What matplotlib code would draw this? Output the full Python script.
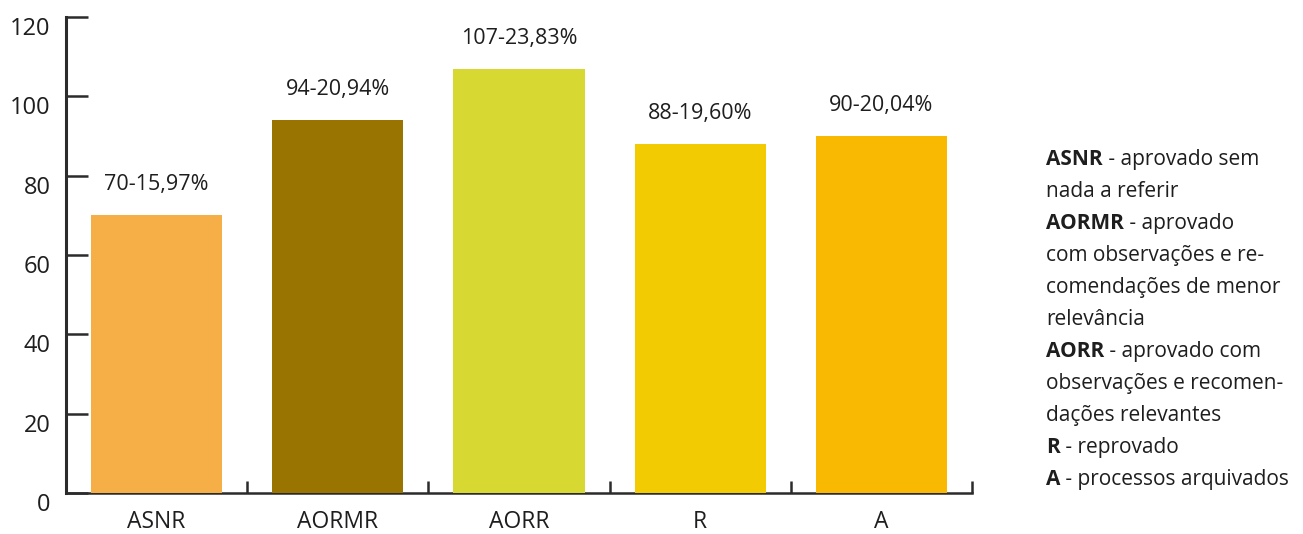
import matplotlib
matplotlib.use("Agg")
import matplotlib.pyplot as plt
import matplotlib.transforms as mtransforms
import numpy as np

plt.rcParams['font.family'] = ['Open Sans', 'DejaVu Sans']

# data
categories = ['ASNR', 'AORMR', 'AORR', 'R', 'A']
counts = [70, 94, 107, 88, 90]
percents = ['15,97%', '20,94%', '23,83%', '19,60%', '20,04%']
colors = ['#F6AE46', '#997400', '#D7D932', '#F2CB02', '#F9B802']
yticks = [0, 20, 40, 60, 80, 100, 120]

legend_lines = [
    ('ASNR', ' - aprovado sem'),
    ('', 'nada a referir'),
    ('AORMR', ' - aprovado'),
    ('', 'com observações e re-'),
    ('', 'comendações de menor'),
    ('', 'relevância'),
    ('AORR', ' - aprovado com'),
    ('', 'observações e recomen-'),
    ('', 'dações relevantes'),
    ('R', ' - reprovado'),
    ('A', ' - processos arquivados'),
]

axis_col = '#2b2b2b'
text_col = '#1e1e1e'

fig = plt.figure(figsize=(13.03, 5.34), dpi=100)
ax = fig.add_axes([66 / 1303, 41 / 534, 906 / 1303, 476 / 534])

x = np.arange(len(categories))
ax.bar(x, counts, width=0.723, color=colors, zorder=1)

for xi, c, p in zip(x, counts, percents):
    ax.annotate(f'{c}-{p}', xy=(xi, c), xytext=(0, 18), textcoords='offset points',
                ha='center', va='baseline', fontsize=15.5, color=text_col)

ax.set_xlim(-0.5, len(categories) - 0.5)
ax.set_ylim(0, 120)

for s in ['top', 'right']:
    ax.spines[s].set_visible(False)
ax.spines['left'].set_linewidth(2.2)
ax.spines['bottom'].set_linewidth(1.8)
ax.spines['left'].set_color(axis_col)
ax.spines['bottom'].set_color(axis_col)
ax.spines['bottom'].set_zorder(0.5)

ax.set_yticks(yticks)
ax.tick_params(axis='y', direction='in', length=16, width=1.8, color=axis_col,
               labelsize=17, labelcolor=text_col, pad=11)
offset = mtransforms.ScaledTranslation(0, -9 / 100, fig.dpi_scale_trans)
for lab in ax.get_yticklabels():
    lab.set_transform(lab.get_transform() + offset)

ax.set_xticks(x + 0.5)
ax.set_xticklabels([])
ax.set_xticks(x, minor=True)
ax.set_xticklabels(categories, minor=True)
ax.tick_params(axis='x', which='major', direction='in', length=9, width=1.8, color=axis_col)
ax.tick_params(axis='x', which='minor', length=0, labelsize=16.5, labelcolor=text_col, pad=12)

# legend text on the right
y0 = 1 - 165 / 534
step = 32 / 534
for i, (bold, rest) in enumerate(legend_lines):
    yy = y0 - i * step
    if bold:
        t = fig.text(1046 / 1303, yy, bold, fontsize=15, fontweight='bold',
                     color=text_col, va='baseline', ha='left')
        ax.annotate(rest, xy=(1, 0), xycoords=t, ha='left', va='bottom',
                    fontsize=15, color=text_col, annotation_clip=False)
    else:
        fig.text(1046 / 1303, yy, rest, fontsize=15, color=text_col,
                 va='baseline', ha='left')

fig.savefig('out.png', dpi=100)
